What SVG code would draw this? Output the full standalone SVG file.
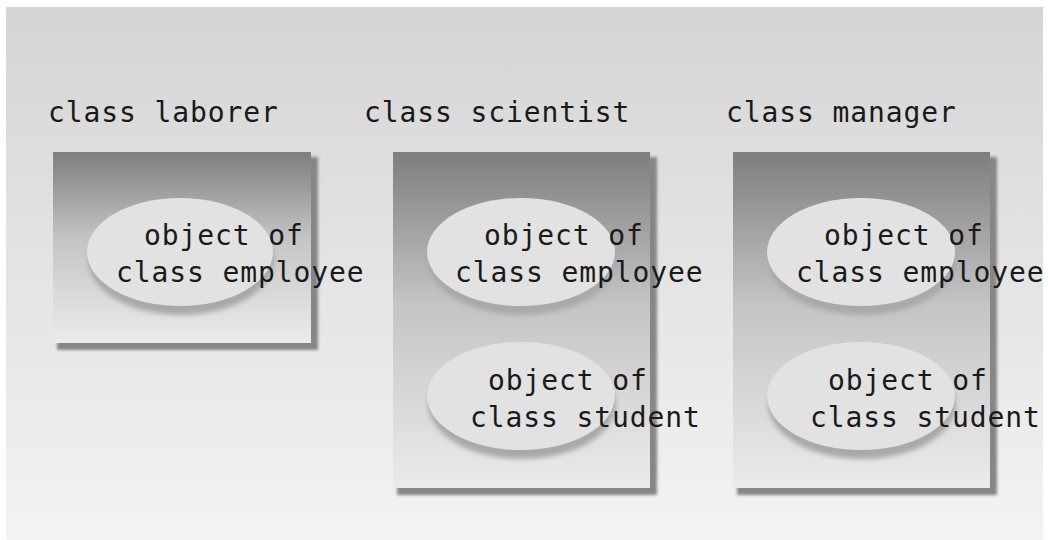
<svg xmlns="http://www.w3.org/2000/svg" width="1048" height="540" viewBox="0 0 1048 540">
  <defs>
    <linearGradient id="bg" x1="0" y1="0" x2="0" y2="1">
      <stop offset="0" stop-color="#d5d5d5"/>
      <stop offset="1" stop-color="#f3f3f3"/>
    </linearGradient>
    <linearGradient id="box" x1="0" y1="0" x2="0" y2="1">
      <stop offset="0" stop-color="#7e7e7e"/>
      <stop offset="0.45" stop-color="#c4c4c4"/>
      <stop offset="1" stop-color="#ebebeb"/>
    </linearGradient>
    <filter id="blur" x="-10%" y="-10%" width="120%" height="130%">
      <feGaussianBlur stdDeviation="1.5"/>
    </filter>
    <filter id="blur2" x="-10%" y="-10%" width="120%" height="130%">
      <feGaussianBlur stdDeviation="2.5"/>
    </filter>
  </defs>
  <style>
    .t { font-family: "DejaVu Sans Mono", "Liberation Mono", monospace; font-size: 28px; letter-spacing: 0.9px; fill: #1a1a1a; }
    .shadow { fill: #868686; filter: url(#blur); }
    .box { fill: url(#box); }
    .eshadow { fill: #a9a9a9; filter: url(#blur2); }
    .ell { fill: #e2e2e2; }
  </style>
  <rect x="0" y="0" width="1048" height="540" fill="#ffffff"/>
  <rect x="6" y="7" width="1037" height="533" fill="url(#bg)"/>

  <g id="laborer">
    <text class="t" x="48" y="122">class laborer</text>
    <rect class="shadow" x="57" y="157" width="261" height="193"/>
    <rect class="box" x="53" y="152" width="258" height="191"/>
    <g id="laborer-employee">
      <ellipse class="eshadow" cx="181" cy="260" rx="93" ry="55"/>
      <ellipse class="ell" cx="180" cy="252" rx="93" ry="54"/>
      <text class="t" x="144" y="245">object of</text>
      <text class="t" x="116" y="282">class employee</text>
    </g>
  </g>

  <g id="scientist">
    <text class="t" x="364" y="122">class scientist</text>
    <rect class="shadow" x="397" y="157" width="260" height="338"/>
    <rect class="box" x="393" y="152" width="257" height="336"/>
    <g id="scientist-employee">
      <ellipse class="eshadow" cx="522" cy="260" rx="94" ry="55"/>
      <ellipse class="ell" cx="521" cy="252" rx="94" ry="54"/>
      <text class="t" x="484" y="245">object of</text>
      <text class="t" x="455" y="282">class employee</text>
    </g>
    <g id="scientist-student">
      <ellipse class="eshadow" cx="522" cy="404" rx="94" ry="55"/>
      <ellipse class="ell" cx="521" cy="396" rx="94" ry="54"/>
      <text class="t" x="488" y="390">object of</text>
      <text class="t" x="470" y="427">class student</text>
    </g>
  </g>

  <g id="manager">
    <text class="t" x="726" y="122">class manager</text>
    <rect class="shadow" x="737" y="157" width="260" height="338"/>
    <rect class="box" x="733" y="152" width="257" height="336"/>
    <g id="manager-employee">
      <ellipse class="eshadow" cx="862" cy="260" rx="94" ry="55"/>
      <ellipse class="ell" cx="861" cy="252" rx="94" ry="54"/>
      <text class="t" x="824" y="245">object of</text>
      <text class="t" x="796" y="282">class employee</text>
    </g>
    <g id="manager-student">
      <ellipse class="eshadow" cx="862" cy="404" rx="94" ry="55"/>
      <ellipse class="ell" cx="861" cy="396" rx="94" ry="54"/>
      <text class="t" x="828" y="390">object of</text>
      <text class="t" x="810" y="427">class student</text>
    </g>
  </g>
  <g id="connectors"/>
</svg>
